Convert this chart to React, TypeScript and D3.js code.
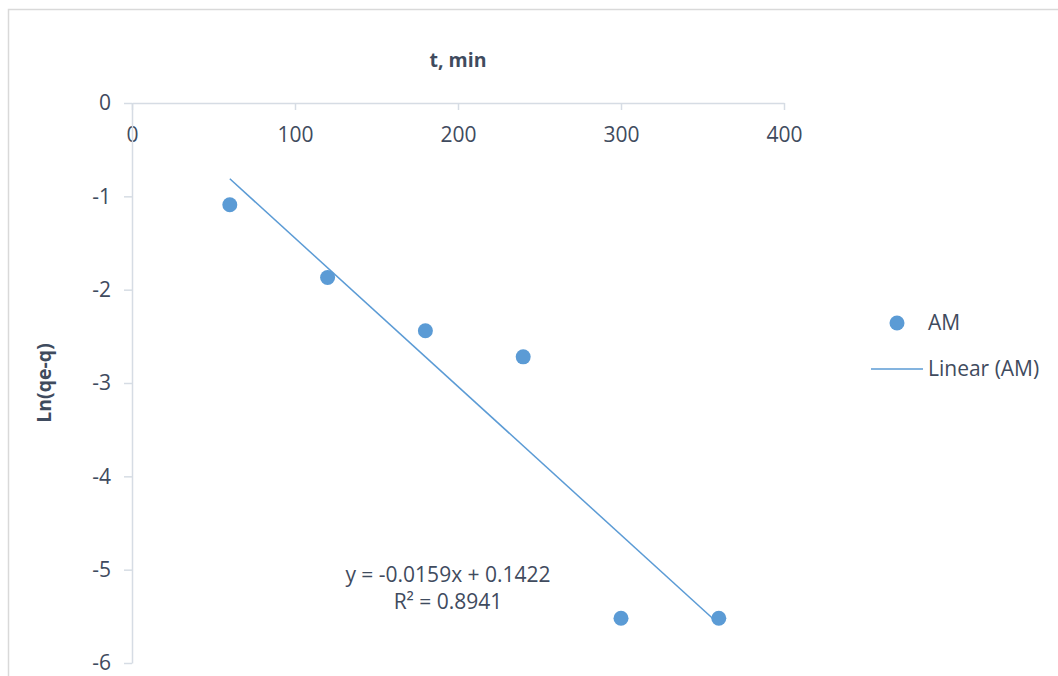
import { useEffect, useRef } from 'react';
import * as d3 from 'd3';

// data
const tValues = [60, 120, 180, 240, 300, 360];
const lnValues = [-1.09, -1.87, -2.44, -2.72, -5.52, -5.52];
const xTicks = [0, 100, 200, 300, 400];
const yTicks = [0, -1, -2, -3, -4, -5, -6];
const trendSlope = -0.0159;
const trendIntercept = 0.1422;
const trendR2 = 0.8941;

const C = {
  marker: '#5B9BD5',
  axis: '#D6DCE4',
  border: '#D9D9D9',
  text: '#3F4B5E',
};
const font = "'Open Sans', sans-serif";
const fs = '21px';

export default function App() {
  const svgRef = useRef<SVGSVGElement>(null);

  useEffect(() => {
    if (!svgRef.current) return;
    const svg = d3.select(svgRef.current);
    svg.selectAll('*').remove();

    const W = 1058, H = 676;
    svg.attr('width', W).attr('height', H);

    // chart area frame (cropped right/bottom)
    svg.append('rect').attr('x', 8.5).attr('y', 9.5).attr('width', W + 20).attr('height', H + 20)
      .attr('fill', '#fff').attr('stroke', C.border).attr('stroke-width', 1.5);

    const x = d3.scaleLinear().domain([0, 400]).range([132, 784]);
    const y = d3.scaleLinear().domain([-6, 0]).range([663, 103]);
    const fmt = (d: any) => String(d);

    // x axis along y = 0, ticks pointing down
    const xa = svg.append('g').attr('transform', `translate(0,${y(0)})`)
      .call(d3.axisBottom(x).tickValues(xTicks).tickFormat(fmt).tickSize(7).tickPadding(17).tickSizeOuter(0));
    xa.select('.domain').attr('stroke', C.axis).attr('stroke-width', 1.5);
    xa.selectAll('line').attr('stroke', C.axis).attr('stroke-width', 1.5);
    xa.selectAll('text').attr('fill', C.text).attr('font-family', font).attr('font-size', fs);

    // y axis
    const ya = svg.append('g').attr('transform', `translate(${x(0)},0)`)
      .call(d3.axisLeft(y).tickValues(yTicks).tickFormat(fmt).tickSize(8).tickPadding(13).tickSizeOuter(0));
    ya.select('.domain').attr('stroke', C.axis).attr('stroke-width', 1.5);
    ya.selectAll('line').attr('stroke', C.axis).attr('stroke-width', 1.5);
    ya.selectAll('text').attr('fill', C.text).attr('font-family', font).attr('font-size', fs);

    // titles
    svg.append('text').attr('x', x(200)).attr('y', 67).attr('text-anchor', 'middle')
      .attr('font-family', font).attr('font-size', '19.5px').attr('font-weight', 'bold')
      .attr('fill', C.text).text('t, min');
    svg.append('text').attr('transform', `translate(51,${y(-3)}) rotate(-90)`).attr('text-anchor', 'middle')
      .attr('font-family', font).attr('font-size', '19.5px').attr('font-weight', 'bold')
      .attr('fill', C.text).text('Ln(qe-q)');

    // linear trend line
    const xMin = d3.min(tValues)!, xMax = d3.max(tValues)!;
    const trend = [xMin, xMax].map(t => [t, trendSlope * t + trendIntercept]);
    svg.append('path').datum(trend)
      .attr('d', d3.line().x(d => x(d[0])).y(d => y(d[1])))
      .attr('fill', 'none').attr('stroke', C.marker).attr('stroke-width', 1.5);

    // points
    svg.append('g').selectAll('circle').data(tValues).join('circle')
      .attr('cx', d => x(d)).attr('cy', (d, i) => y(lnValues[i]))
      .attr('r', 7.5).attr('fill', C.marker);

    // equation label
    const eq = svg.append('text').attr('font-family', font).attr('font-size', fs)
      .attr('fill', C.text).attr('text-anchor', 'middle');
    eq.append('tspan').attr('x', 448).attr('y', 582)
      .text(`y = ${trendSlope}x + ${trendIntercept}`);
    eq.append('tspan').attr('x', 448).attr('y', 609)
      .text(`R² = ${trendR2}`);

    // legend
    const lg = svg.append('g').attr('font-family', font).attr('font-size', fs).attr('fill', C.text);
    lg.append('circle').attr('cx', 897).attr('cy', 323).attr('r', 7.5).attr('fill', C.marker);
    lg.append('text').attr('x', 928).attr('y', 330).text('AM');
    lg.append('line').attr('x1', 871).attr('x2', 923).attr('y1', 369).attr('y2', 369)
      .attr('stroke', C.marker).attr('stroke-width', 1.5);
    lg.append('text').attr('x', 928).attr('y', 376).text('Linear (AM)');
  }, []);

  return (
    <div style={{ position: 'absolute', left: 0, top: 0, width: 1058, height: 676, overflow: 'hidden', background: '#fff' }}>
      <svg ref={svgRef} style={{ display: 'block' }}></svg>
    </div>
  );
}
